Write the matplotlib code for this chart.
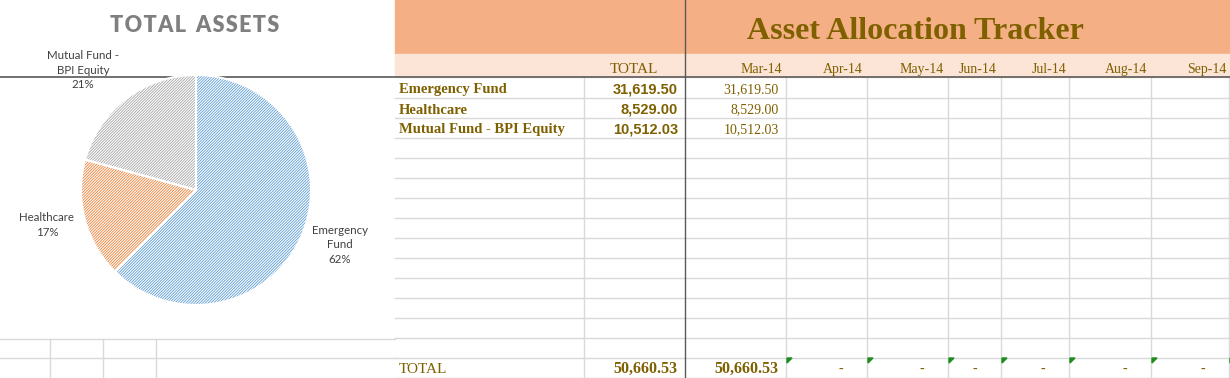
import matplotlib
matplotlib.use("Agg")
import matplotlib.pyplot as plt
from matplotlib.patches import Rectangle, Polygon

# ---- data ----
categories = ["Emergency Fund", "Healthcare", "Mutual Fund - BPI Equity"]
totals = [31619.50, 8529.00, 10512.03]
mar14 = [31619.50, 8529.00, 10512.03]
months = ["Mar-14", "Apr-14", "May-14", "Jun-14", "Jul-14", "Aug-14", "Sep-14"]
pie_labels = ["Emergency\nFund", "Healthcare", "Mutual Fund -\nBPI Equity"]
pie_colors = ["#5B9BD5", "#ED7D31", "#A5A5A5"]
grand_total = sum(totals)
mar_total = sum(mar14)

W, H = 1230, 378
fig = plt.figure(figsize=(W / 100, H / 100), dpi=100)
ax = fig.add_axes([0, 0, 1, 1])
ax.set_xlim(0, W)
ax.set_ylim(H, 0)
ax.axis("off")

GOLD = "#7F6000"
GRID = "#D9D9D9"
DARK = "#595959"
serif = "Liberation Serif"
sans = "Liberation Sans"

# header bands
ax.add_patch(Rectangle((395, 0), W - 395, 54, color="#F4B084", zorder=0))
ax.add_patch(Rectangle((395, 54), W - 395, 23, color="#FCE4D6", zorder=0))

# table grid
col_edges = [584, 786, 867, 948, 1001, 1069, 1151, 1229]
row_lines = [97.5 + 20 * k for k in range(15)]
for y in row_lines:
    ax.plot([395, W], [y, y], color=GRID, lw=1, zorder=1)
for x in col_edges:
    ax.plot([x, x], [77, H], color=GRID, lw=1, zorder=1)
ax.plot([685, 685], [0, H], color=DARK, lw=1, zorder=3)
ax.plot([0, W], [77, 77], color=DARK, lw=1.2, zorder=3)

# bottom-left grid under chart
for y in [339, 358]:
    ax.plot([0, 395], [y, y], color=GRID, lw=1, zorder=1)
for x in [50, 103, 156]:
    ax.plot([x, x], [339, H], color=GRID, lw=1, zorder=1)

# titles
ax.text(915, 39, "Asset Allocation Tracker", family=serif, weight="bold",
        fontsize=23, color=GOLD, ha="center", va="baseline", zorder=4)
hs = "\u200a"
title_left = hs.join("TOTAL") + "  " + hs.join("ASSETS")
ax.text(195, 32, title_left, family=["Lato", "DejaVu Sans"], weight="heavy",
        fontsize=15.5, color="#7F7F7F", ha="center", va="baseline", zorder=4)

# header row
ax.text(634, 73, "TOTAL", family=serif, fontsize=11, color=GOLD,
        ha="center", va="baseline", zorder=4)
month_right = [782, 863, 944, 997, 1067, 1147, 1226]
for m, xr in zip(months, month_right):
    ax.text(xr, 73, m, family=serif, fontsize=10, color=GOLD,
            ha="right", va="baseline", zorder=4)

# data rows
for i, (cat, tot, mv) in enumerate(zip(categories, totals, mar14)):
    yb = 97.5 + 20 * i - 4
    ax.text(399, yb, cat, family=serif, weight="bold", fontsize=10.5,
            color=GOLD, ha="left", va="baseline", zorder=4)
    ax.text(678, yb, f"{tot:,.2f}", family=sans, weight="bold", fontsize=10.5,
            color=GOLD, ha="right", va="baseline", zorder=4)
    ax.text(779, yb, f"{mv:,.2f}", family=serif, fontsize=10,
            color=GOLD, ha="right", va="baseline", zorder=4)

# total row
yb = 373
ax.text(399, yb, "TOTAL", family=serif, fontsize=11, color=GOLD,
        ha="left", va="baseline", zorder=4)
ax.text(677, yb, f"{grand_total:,.2f}", family=serif, weight="bold", fontsize=11.5,
        color=GOLD, ha="right", va="baseline", zorder=4)
ax.text(778, yb, f"{mar_total:,.2f}", family=serif, weight="bold", fontsize=11.5,
        color=GOLD, ha="right", va="baseline", zorder=4)
for xr in col_edges[1:]:
    if xr > 786:
        ax.text(xr - 24, yb, "-", family=serif, fontsize=10, color=GOLD,
                ha="right", va="baseline", zorder=4)
for x in col_edges[1:]:
    ax.add_patch(Polygon([[x + 1, 358], [x + 6, 358], [x + 1, 363]],
                         closed=True, color="#1E8C1E", zorder=5))

# pie
cx, cy, r = 196, 190, 115
pax = fig.add_axes([(cx - r) / W, (H - cy - r) / H, 2 * r / W, 2 * r / H])
pax.set_zorder(5)
plt.rcParams["hatch.linewidth"] = 0.6
wedges, _ = pax.pie(totals, colors=["white"] * 3, startangle=90, counterclock=False,
                    radius=1, wedgeprops=dict(linewidth=0))
for w, c in zip(wedges, pie_colors):
    w.set_edgecolor(c)
    w.set_hatch("////////////")
    w.set_facecolor("#FFFFFF")
pax.pie(totals, startangle=90, counterclock=False, radius=1,
        wedgeprops=dict(fill=False, edgecolor="white", linewidth=1.5))
pax.set_xlim(-1.0, 1.0)
pax.set_ylim(-1.0, 1.0)
pax.set_aspect("equal")
pax.axis("off")

# pie labels
pcts = [v / grand_total * 100 for v in totals]
label_pos = [(340, 245), (47, 225), (83, 70)]
for lab, p, (lx, ly) in zip(pie_labels, pcts, label_pos):
    ax.text(lx, ly, f"{lab}\n{p:.0f}%", family="Lato", fontsize=8.3, color="#404040",
            ha="center", va="center", linespacing=1.4, zorder=4)

fig.savefig("out.png", dpi=100)
